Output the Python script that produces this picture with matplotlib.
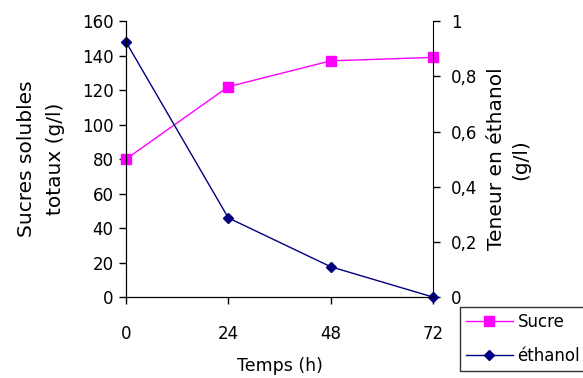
import matplotlib.pyplot as plt
from matplotlib.ticker import FuncFormatter

plt.rcParams['font.family'] = ['DejaVu Sans']

# Data
temps = [0, 24, 48, 72]
sucre = [80, 122, 137, 139]
ethanol = [0.925, 0.287, 0.11, 0.0]

fig = plt.figure(figsize=(5.83, 3.78), dpi=100)
ax = fig.add_axes([0.216, 0.214, 0.527, 0.730])
ax2 = ax.twinx()

l1, = ax.plot(temps, sucre, color='#FF00FF', marker='s', markersize=7,
              linewidth=1, label='Sucre')
l2, = ax2.plot(temps, ethanol, color='#000080', marker='D', markersize=5.5,
               linewidth=1, label='éthanol')

ax.set_xlim(0, 72)
ax.set_ylim(0, 160)
ax2.set_ylim(0, 1)
ax.set_xticks(temps)
ax.set_yticks(range(0, 161, 20))
ax2.set_yticks([0, 0.2, 0.4, 0.6, 0.8, 1])
ax2.yaxis.set_major_formatter(FuncFormatter(lambda v, p: f'{v:g}'.replace('.', ',')))

for a in (ax, ax2):
    a.spines['top'].set_visible(False)
    a.tick_params(labelsize=12, length=5, width=1, direction='out', colors='black')
ax.spines['right'].set_visible(False)
ax.tick_params(axis='x', pad=15)
ax.tick_params(axis='y', pad=4)
ax2.tick_params(axis='y', pad=8)
l1.set_clip_on(False)
l2.set_clip_on(False)

ax.set_ylabel('Sucres solubles\ntotaux (g/l)', fontsize=14.5, labelpad=12,
              linespacing=1.7)
ax2.set_ylabel('Teneur en éthanol\n(g/l)', fontsize=14.5, labelpad=7,
               linespacing=1.35)
ax.set_xlabel('Temps (h)', fontsize=12.5, labelpad=10)

leg = fig.legend(handles=[l1, l2], loc='upper left',
                 bbox_to_anchor=(460 / 583, 1 - 307 / 378),
                 fontsize=12, frameon=True, fancybox=False, borderaxespad=0,
                 handlelength=2.8, handletextpad=0.3, borderpad=0.35,
                 labelspacing=0.95)
leg.get_frame().set_edgecolor('black')
leg.get_frame().set_linewidth(1)

fig.savefig('out.png', dpi=100)
